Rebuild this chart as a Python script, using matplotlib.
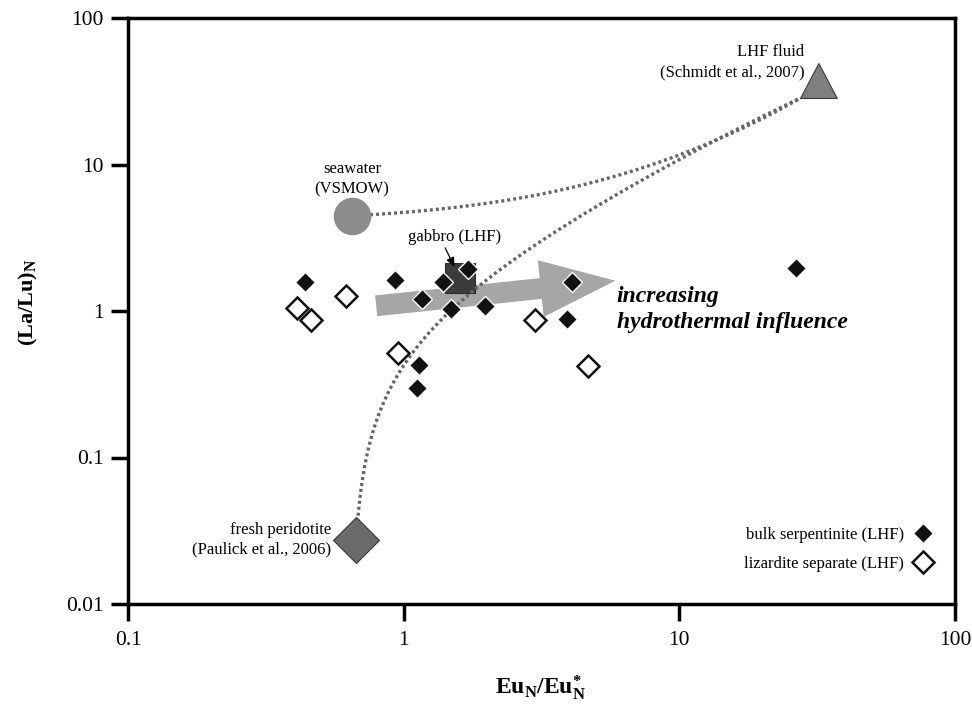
import numpy as np
import matplotlib
matplotlib.use("Agg")
import matplotlib.pyplot as plt
from matplotlib.path import Path

plt.rcParams['font.family'] = ['Liberation Serif', 'DejaVu Serif']
plt.rcParams['mathtext.fontset'] = 'custom'
plt.rcParams['mathtext.rm'] = 'Liberation Serif'
plt.rcParams['mathtext.bf'] = 'Liberation Serif:bold'
plt.rcParams['mathtext.it'] = 'Liberation Serif:italic'

# ---- data ----
bulk_x = [0.44, 0.93, 1.39, 1.71, 1.17, 1.49, 1.98, 4.09, 3.92, 1.14, 1.12, 26.4]
bulk_y = [1.58, 1.63, 1.58, 1.93, 1.21, 1.03, 1.08, 1.58, 0.885, 0.43, 0.30, 1.97]
liz_x = [0.62, 0.41, 0.46, 3.0, 0.955, 4.68]
liz_y = [1.27, 1.05, 0.87, 0.87, 0.52, 0.42]

seawater = (0.65, 4.46)
fluid = (27.5, 28.4)
peridotite = (0.673, 0.0275)
gabbro = (1.60, 1.68)

# binary mixing: ratio of denominator-weighting (La/Lu relative to Eu/Eu*)
mix_r_seawater = 0.8
mix_r_peridotite = 1.15

arrow_tail = (0.795, 1.085)
arrow_tip = (5.86, 1.61)

xticks = [0.1, 1, 10, 100]
yticks = [0.01, 0.1, 1, 10, 100]
xticklabels = ['0.1', '1', '10', '100']
yticklabels = ['0.01', '0.1', '1', '10', '100']


def mixing_curve(a, b, r):
    wx = np.concatenate([[0.0], np.logspace(-5, 0, 1500)])
    wy = r * wx / (1 - wx + r * wx)
    return a[0] + wx * (b[0] - a[0]), a[1] + wy * (b[1] - a[1])


fig = plt.figure(figsize=(9.72, 7.07), dpi=100)
ax = fig.add_axes([128 / 972, 1 - 604 / 707, (955 - 128) / 972, (604 - 18) / 707])
ax.set_xscale('log')
ax.set_yscale('log')
ax.set_xlim(0.1, 100)
ax.set_ylim(0.01, 100)

# big gray arrow
ax.annotate('', xy=arrow_tip, xytext=arrow_tail,
            arrowprops=dict(arrowstyle='simple,head_length=54,head_width=41,tail_width=15',
                            mutation_scale=1, color='#a6a6a6', lw=0, shrinkA=0, shrinkB=0),
            zorder=1)

# gabbro
ax.plot(*gabbro, marker='s', ms=21.6, mfc='#3c3c3c', mec='#2a2a2a', mew=0.8, ls='none', zorder=2)

# mixing curves
for a, r in [(seawater, mix_r_seawater), (peridotite, mix_r_peridotite)]:
    cx, cy = mixing_curve(a, fluid, r)
    ax.plot(cx, cy, color='#666666', lw=2.4, ls=(0, (0.9, 0.9)), dash_capstyle='butt', zorder=3)

# end members
tri = Path([(0, 0), (1, 0), (0.5, 0.95), (0, 0)], [Path.MOVETO, Path.LINETO, Path.LINETO, Path.CLOSEPOLY])
ax.plot(*seawater, marker='o', ms=26, mfc='#8c8c8c', mec='#8c8c8c', ls='none', zorder=5)
ax.plot(*fluid, marker=tri, ms=53, mfc='#7f7f7f', mec='#3a3a3a', mew=0.8, ls='none', zorder=5)
ax.plot(*peridotite, marker='D', ms=23, mfc='#6b6b6b', mec='#3a3a3a', mew=0.8, ls='none', zorder=5)

# samples
hb, = ax.plot(bulk_x, bulk_y, marker='D', ms=10, mfc='#111111', mec='white', mew=1.0, ls='none', zorder=6)
hl, = ax.plot(liz_x, liz_y, marker='D', ms=11, mfc='white', mec='#111111', mew=1.8, ls='none', zorder=6)

# annotations
fs = 12
ax.annotate('seawater\n(VSMOW)', xy=seawater, xytext=(0, 13), textcoords='offset points',
            ha='center', va='bottom', fontsize=fs, linespacing=1.4)
ax.annotate('LHF fluid\n(Schmidt et al., 2007)', xy=fluid, xytext=(3, 13), textcoords='offset points',
            ha='right', va='bottom', fontsize=fs, multialignment='right', linespacing=1.3)
ax.annotate('fresh peridotite\n(Paulick et al., 2006)', xy=peridotite, xytext=(-18, 0), textcoords='offset points',
            ha='right', va='center', fontsize=fs, multialignment='right', linespacing=1.3)
ax.annotate('gabbro (LHF)', xy=gabbro, xytext=(-3.6, 29.5), textcoords='offset points',
            ha='center', va='center', fontsize=fs,
            arrowprops=dict(arrowstyle='-|>,head_length=0.45,head_width=0.2', color='k', lw=0.9,
                            shrinkA=0, shrinkB=9, relpos=(0.38, 0)))
ax.annotate('increasing\nhydrothermal influence', xy=arrow_tip, xytext=(1, -4), textcoords='offset points',
            ha='left', va='top', fontsize=17, style='italic', fontweight='bold', linespacing=1.32)

# legend
ax.legend([hb, hl], ['bulk serpentinite (LHF)', 'lizardite separate (LHF)'], loc='lower right',
          bbox_to_anchor=(0.971, 0.055), frameon=False, markerfirst=False, fontsize=fs,
          handlelength=1.0, handletextpad=0.6, labelspacing=0.75, borderpad=0, borderaxespad=0)

# axes styling
for s in ax.spines.values():
    s.set_linewidth(2.5)
ax.set_xticks(xticks)
ax.set_xticklabels(xticklabels)
ax.set_yticks(yticks)
ax.set_yticklabels(yticklabels)
ax.minorticks_off()
ax.tick_params(axis='both', which='major', direction='out', length=12.5, width=2.5, labelsize=15.5)
ax.tick_params(axis='y', pad=5)
ax.tick_params(axis='x', pad=7)

fig.text(541 / 972, 1 - 688 / 707, r'Eu$_\mathbf{N}$/Eu$^\mathbf{*}_\mathbf{N}$', ha='center', va='center',
         fontsize=17, fontweight='bold')
fig.text(28 / 972, 1 - 302 / 707, r'(La/Lu)$_\mathbf{N}$', ha='center', va='center', rotation=90,
         fontsize=16, fontweight='bold')

fig.savefig('out.png', dpi=100)
